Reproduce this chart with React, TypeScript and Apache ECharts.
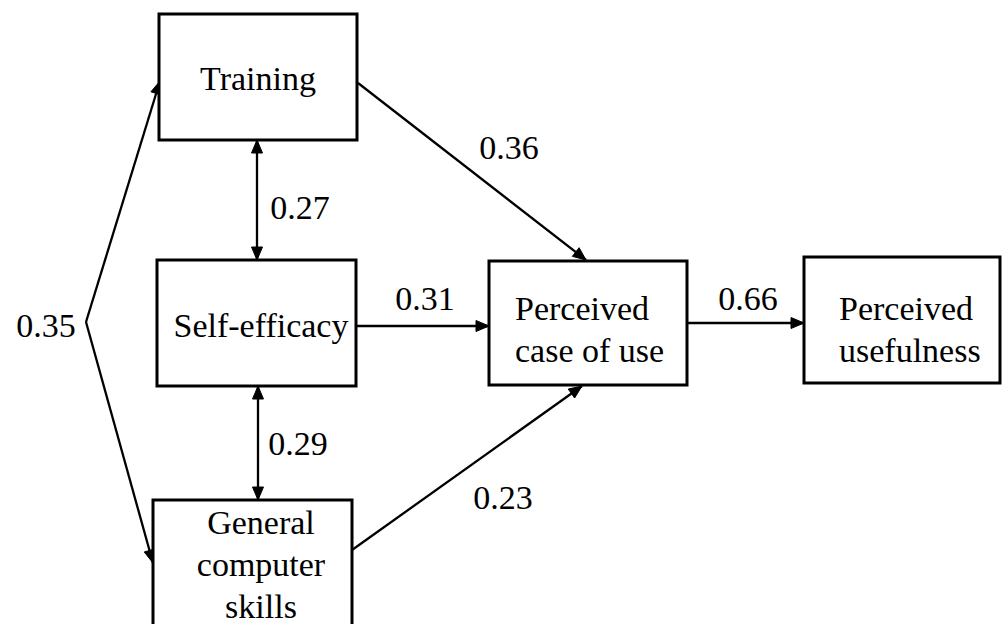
import { useEffect, useRef } from "react";
import * as echarts from "echarts";

// ---- content ----
const nodeLabels = [
  "Training",
  "Self-efficacy",
  "General\ncomputer\nskills",
  "Perceived\ncase of use",
  "Perceived\nusefulness",
];
const coefficients = ["0.36", "0.27", "0.31", "0.66", "0.29", "0.23", "0.35"];

// ---- layout (diagram coordinates, px of the 1003x624 canvas) ----
const boxLayout = [
  [159, 14, 357, 140],
  [157, 260, 356, 386],
  [153, 500, 352, 640],
  [489, 261, 687, 385],
  [804, 257, 1000, 383],
];
const textLayout = [
  [258, 78],
  [261, 325],
  [261, 564],
  [515, 329],
  [839, 329],
];
const textAlign = ["center", "center", "center", "left", "left"];
// x1, y1, x2, y2, headAtStart, headAtEnd
const edgeLayout = [
  [358, 83, 586, 260, 0, 1],
  [257, 140, 257, 260, 1, 1],
  [356, 326, 489, 326, 0, 1],
  [687, 323, 804, 323, 0, 1],
  [258, 386, 258, 500, 1, 1],
  [352, 550, 582, 386, 0, 1],
  [86, 322, 160, 81, 0, 1],
  [86, 322, 153, 563, 0, 1],
];
const coefLayout = [
  [509, 147],
  [300, 207],
  [425, 298],
  [748, 298],
  [298, 443],
  [503, 497],
  [46, 325],
];

const FAMILY = "Liberation Serif";
const SIZE = 34;

function arrowHead(tip: number[], from: number[]) {
  const dx = tip[0] - from[0];
  const dy = tip[1] - from[1];
  const len = Math.sqrt(dx * dx + dy * dy) || 1;
  const ux = dx / len;
  const uy = dy / len;
  const L = 13;
  const W = 5.5;
  const bx = tip[0] - ux * L;
  const by = tip[1] - uy * L;
  return {
    type: "polygon",
    shape: {
      points: [
        [tip[0], tip[1]],
        [bx - uy * W, by + ux * W],
        [bx + uy * W, by - ux * W],
      ],
    },
    style: { fill: "#000", stroke: "#000", lineWidth: 1 },
  };
}

export default function App() {
  const ref = useRef<HTMLDivElement>(null);
  useEffect(() => {
    document.body.style.margin = "0";
    if (!ref.current) return;
    const chart = echarts.init(ref.current, null, { renderer: "svg" });
    chart.setOption({
      animation: false,
      backgroundColor: "#fff",
      grid: { left: 0, right: 0, top: 0, bottom: 0 },
      xAxis: { type: "value", min: 0, max: 1003, show: false },
      yAxis: { type: "value", min: 0, max: 624, inverse: true, show: false },
      series: [
        {
          type: "custom",
          name: "edges",
          clip: false,
          data: edgeLayout,
          renderItem: (_p: any, api: any) => {
            const a = api.coord([api.value(0), api.value(1)]);
            const b = api.coord([api.value(2), api.value(3)]);
            const children: any[] = [
              {
                type: "line",
                shape: { x1: a[0], y1: a[1], x2: b[0], y2: b[1] },
                style: { stroke: "#000", lineWidth: 2.3 },
              },
            ];
            if (api.value(4)) children.push(arrowHead(a, b));
            if (api.value(5)) children.push(arrowHead(b, a));
            return { type: "group", children };
          },
          z: 1,
        },
        {
          type: "custom",
          name: "nodes",
          clip: false,
          data: nodeLabels.map((n, i) => ({
            name: n,
            value: [...boxLayout[i], ...textLayout[i]],
          })),
          renderItem: (p: any, api: any) => {
            const a = api.coord([api.value(0), api.value(1)]);
            const b = api.coord([api.value(2), api.value(3)]);
            const t = api.coord([api.value(4), api.value(5)]);
            return {
              type: "group",
              children: [
                {
                  type: "rect",
                  shape: { x: a[0], y: a[1], width: b[0] - a[0], height: b[1] - a[1] },
                  style: { fill: "#fff", stroke: "#000", lineWidth: 3 },
                },
                {
                  type: "text",
                  x: t[0],
                  y: t[1],
                  style: {
                    text: nodeLabels[p.dataIndex],
                    fontFamily: FAMILY,
                    fontSize: SIZE,
                    fill: "#000",
                    align: textAlign[p.dataIndex],
                    verticalAlign: "middle",
                    lineHeight: 42,
                  },
                },
              ],
            };
          },
          z: 2,
        },
        {
          type: "custom",
          name: "coefficients",
          clip: false,
          data: coefficients.map((c, i) => ({ name: c, value: coefLayout[i] })),
          renderItem: (p: any, api: any) => {
            const t = api.coord([api.value(0), api.value(1)]);
            return {
              type: "text",
              x: t[0],
              y: t[1],
              style: {
                text: coefficients[p.dataIndex],
                fontFamily: FAMILY,
                fontSize: SIZE,
                fill: "#000",
                align: "center",
                verticalAlign: "middle",
              },
            };
          },
          z: 3,
        },
      ],
    });
    return () => chart.dispose();
  }, []);
  return <div ref={ref} style={{ width: 1003, height: 624 }} />;
}
